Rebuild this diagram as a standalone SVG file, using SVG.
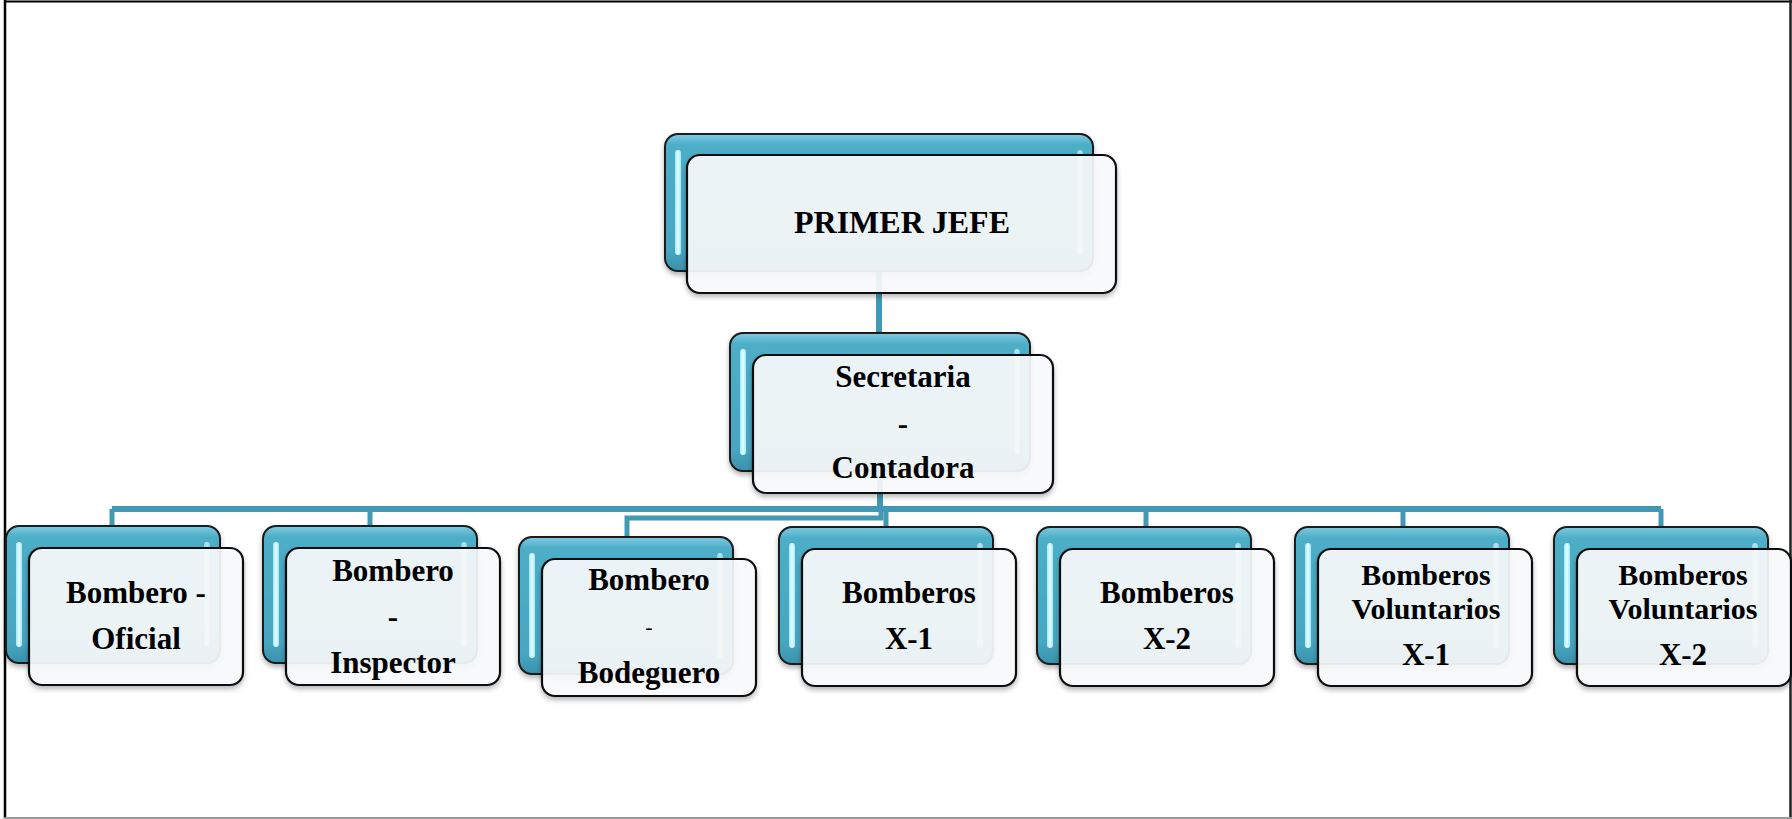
<svg xmlns="http://www.w3.org/2000/svg" width="1792" height="819" viewBox="0 0 1792 819">
<style>
.t{font-family:"Liberation Serif","Times New Roman",serif;font-weight:bold;font-size:31px;fill:#000;text-anchor:middle}
.conn{fill:none;stroke:#4299b3;stroke-width:6}
.drop{fill:none;stroke:#4299b3;stroke-width:5}
.back{fill:url(#gBack);stroke:#1a1a1a;stroke-width:2}
.front{fill:#fbfcfd;fill-opacity:0.9;stroke:#111;stroke-width:2.2}
.hl{fill:url(#gHl)}
.hr{fill:url(#gHl);opacity:0.7}
.v{font-size:30px}
</style>
<defs>
<linearGradient id="gBack" x1="0" y1="0" x2="0" y2="1">
<stop offset="0" stop-color="#7fcbe0"/>
<stop offset="0.08" stop-color="#4eaec8"/>
<stop offset="0.85" stop-color="#47a6c1"/>
<stop offset="1" stop-color="#3a91ab"/>
</linearGradient>
<linearGradient id="gHl" x1="0" y1="0" x2="1" y2="0">
<stop offset="0" stop-color="#9fe9fa"/>
<stop offset="0.5" stop-color="#e8fcff"/>
<stop offset="1" stop-color="#9fe9fa"/>
</linearGradient>
<filter id="sh" x="-10%" y="-10%" width="120%" height="130%">
<feDropShadow dx="0" dy="3" stdDeviation="2.5" flood-color="#000" flood-opacity="0.3"/>
</filter>
<g id="nodeShape">
<rect class="back" x="0" y="0" width="214" height="137" rx="13" filter="url(#sh)"/>
<rect class="hl" x="10" y="16" width="6" height="105" rx="3"/>
<rect class="hr" x="198" y="16" width="6" height="105" rx="3"/>
<rect class="front" x="23" y="22" width="214" height="137" rx="13" filter="url(#sh)"/>
</g>
</defs>
<rect x="0" y="0" width="1792" height="819" fill="#fff"/>
<g id="frame" fill="none">
<line x1="4" y1="1.5" x2="1792" y2="1.5" stroke="#000" stroke-width="2"/>
<line x1="5" y1="0" x2="5" y2="819" stroke="#000" stroke-width="2.5"/>
<line x1="1790.5" y1="0" x2="1790.5" y2="819" stroke="#222" stroke-width="2.5"/>
<line x1="4" y1="818" x2="1792" y2="818" stroke="#9a9a9a" stroke-width="2"/>
</g>
<g id="connectors">
<path class="conn" d="M879,250 V335"/>
<path class="conn" d="M880,470 V509"/>
<path class="conn" d="M112,509 H1661"/>
<path class="drop" d="M112,509 V528"/>
<path class="drop" d="M370,509 V528"/>
<path class="drop" d="M886,509 V529"/>
<path class="drop" d="M1146,509 V529"/>
<path class="drop" d="M1403,509 V529"/>
<path class="drop" d="M1661,509 V529"/>
<path class="drop" d="M881,509 V518 H627 V539"/>
</g>
<g id="n-primer-jefe">
<rect class="back" x="665" y="134" width="428" height="137" rx="13" filter="url(#sh)"/>
<rect class="hl" x="675" y="150" width="6" height="105" rx="3"/>
<rect class="hr" x="1077" y="150" width="6" height="105" rx="3"/>
<rect class="front" x="687" y="155" width="429" height="138" rx="13" filter="url(#sh)"/>
<text class="t" x="902" y="233" style="font-size:32px">PRIMER JEFE</text>
</g>
<g id="n-secretaria">
<rect class="back" x="730" y="333" width="300" height="138" rx="13" filter="url(#sh)"/>
<rect class="hl" x="740" y="349" width="6" height="106" rx="3"/>
<rect class="hr" x="1014" y="349" width="6" height="106" rx="3"/>
<rect class="front" x="753" y="355" width="300" height="138" rx="13" filter="url(#sh)"/>
<text class="t" x="903" y="387">Secretaria</text>
<text class="t" x="903" y="434">-</text>
<text class="t" x="903" y="478">Contadora</text>
</g>
<g id="n-oficial">
<use href="#nodeShape" x="6" y="526"/>
<text class="t" x="136" y="603">Bombero -</text>
<text class="t" x="136" y="649">Oficial</text>
</g>
<g id="n-inspector">
<use href="#nodeShape" x="263" y="526"/>
<text class="t" x="393" y="581">Bombero</text>
<text class="t" x="393" y="627">-</text>
<text class="t" x="393" y="673">Inspector</text>
</g>
<g id="n-bodeguero">
<use href="#nodeShape" x="519" y="537"/>
<text class="t" x="649" y="590">Bombero</text>
<text class="t" x="649" y="634" style="font-size:22px;font-weight:normal">-</text>
<text class="t" x="649" y="683">Bodeguero</text>
</g>
<g id="n-x1">
<use href="#nodeShape" x="779" y="527"/>
<text class="t" x="909" y="603">Bomberos</text>
<text class="t" x="909" y="649">X-1</text>
</g>
<g id="n-x2">
<use href="#nodeShape" x="1037" y="527"/>
<text class="t" x="1167" y="603">Bomberos</text>
<text class="t" x="1167" y="649">X-2</text>
</g>
<g id="n-vx1">
<use href="#nodeShape" x="1295" y="527"/>
<text class="t v" x="1426" y="585">Bomberos</text>
<text class="t v" x="1426" y="619">Voluntarios</text>
<text class="t" x="1426" y="665">X-1</text>
</g>
<g id="n-vx2">
<use href="#nodeShape" x="1554" y="527"/>
<text class="t v" x="1683" y="585">Bomberos</text>
<text class="t v" x="1683" y="619">Voluntarios</text>
<text class="t" x="1683" y="665">X-2</text>
</g>
</svg>
